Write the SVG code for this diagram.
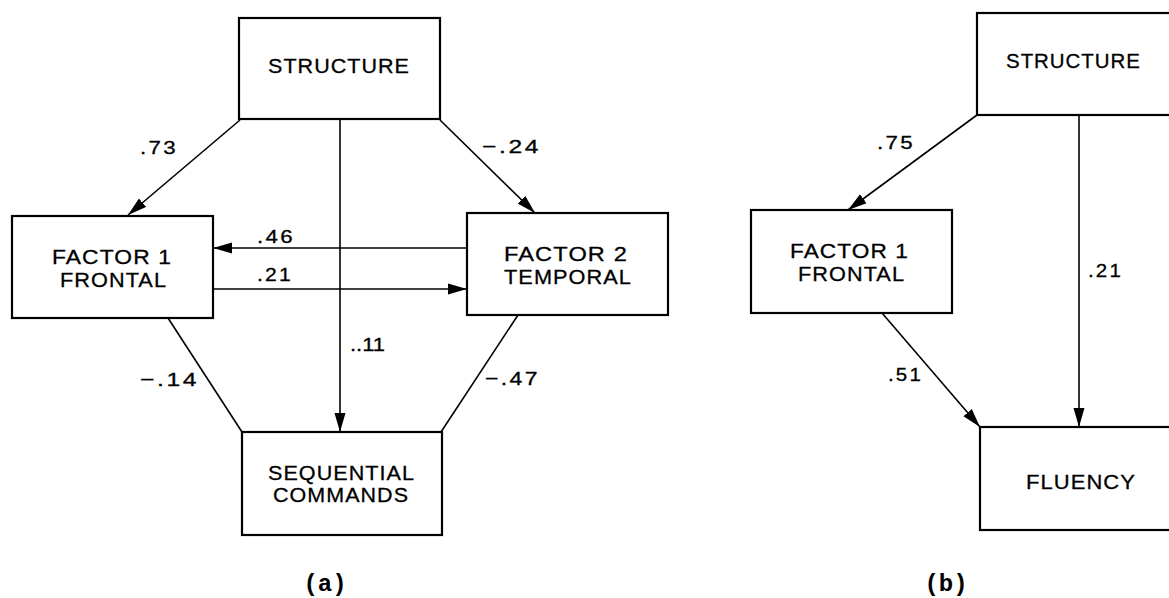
<svg xmlns="http://www.w3.org/2000/svg" width="1169" height="598" viewBox="0 0 1169 598">
<style>
.box{fill:#fff;stroke:#000;stroke-width:2.2}
.nt{font-family:"Liberation Sans",Arial,sans-serif;font-size:20.5px;letter-spacing:1px;fill:#000;stroke:#000;stroke-width:0.3}
.lb{font-family:"Liberation Sans",Arial,sans-serif;font-size:19px;letter-spacing:2px;fill:#000;stroke:#000;stroke-width:0.3}
.cap{font-family:"Liberation Mono","Courier New",monospace;font-size:24px;font-weight:bold;fill:#000;text-anchor:middle}
.ln{stroke:#000;stroke-width:1.6;fill:none}
.ar{marker-end:url(#ah)}
</style>
<defs>
<marker id="ah" markerUnits="userSpaceOnUse" markerWidth="19" markerHeight="12" refX="19" refY="6" orient="auto">
<path d="M0,0.5 L19,6 L0,11.5 z" fill="#000"/>
</marker>
</defs>
<rect width="1169" height="598" fill="#fff"/>
<g id="connectors">
<line class="ln ar" x1="240" y1="120" x2="128" y2="215"/>
<line class="ln ar" x1="440" y1="120" x2="535" y2="213"/>
<line class="ln ar" x1="340" y1="120" x2="340" y2="432"/>
<line class="ln ar" x1="467" y1="248" x2="213" y2="248"/>
<line class="ln ar" x1="213" y1="289" x2="467" y2="289"/>
<line class="ln" x1="168" y1="318" x2="242" y2="432"/>
<line class="ln" x1="518" y1="315" x2="441" y2="432"/>
<line class="ln ar" x1="977" y1="115" x2="848" y2="210"/>
<line class="ln ar" x1="1079" y1="115" x2="1079" y2="427"/>
<line class="ln ar" x1="882" y1="313" x2="980" y2="427"/>
<text class="lb" x="140" y="154" textLength="38" lengthAdjust="spacingAndGlyphs">.73</text>
<text class="lb" x="482" y="153" textLength="59" lengthAdjust="spacingAndGlyphs">−.24</text>
<text class="lb" x="257" y="243" textLength="38" lengthAdjust="spacingAndGlyphs">.46</text>
<text class="lb" x="257" y="281" textLength="36" lengthAdjust="spacingAndGlyphs">.21</text>
<text class="lb" x="350" y="351" textLength="35" lengthAdjust="spacingAndGlyphs" style="letter-spacing:0">..11</text>
<text class="lb" x="140" y="386" textLength="59" lengthAdjust="spacingAndGlyphs">−.14</text>
<text class="lb" x="485" y="385" textLength="55" lengthAdjust="spacingAndGlyphs">−.47</text>
<text class="lb" x="877" y="149" textLength="38" lengthAdjust="spacingAndGlyphs">.75</text>
<text class="lb" x="1088" y="277" textLength="35" lengthAdjust="spacingAndGlyphs">.21</text>
<text class="lb" x="888" y="381" textLength="35" lengthAdjust="spacingAndGlyphs">.51</text>
</g>
<g id="structure-a">
<rect class="box" x="239" y="18" width="201" height="101"/>
<text class="nt" x="268" y="73" textLength="142" lengthAdjust="spacingAndGlyphs">STRUCTURE</text>
</g>
<g id="factor1-a">
<rect class="box" x="12" y="216" width="201" height="102"/>
<text class="nt" x="52" y="264" textLength="120" lengthAdjust="spacingAndGlyphs">FACTOR 1</text>
<text class="nt" x="60" y="287" textLength="107" lengthAdjust="spacingAndGlyphs">FRONTAL</text>
</g>
<g id="factor2-a">
<rect class="box" x="467" y="213" width="201" height="102"/>
<text class="nt" x="504" y="261" textLength="124" lengthAdjust="spacingAndGlyphs">FACTOR 2</text>
<text class="nt" x="504" y="284" textLength="128" lengthAdjust="spacingAndGlyphs">TEMPORAL</text>
</g>
<g id="sequential-a">
<rect class="box" x="242" y="432" width="200" height="103"/>
<text class="nt" x="268" y="480" textLength="147" lengthAdjust="spacingAndGlyphs">SEQUENTIAL</text>
<text class="nt" x="273" y="502" textLength="136" lengthAdjust="spacingAndGlyphs">COMMANDS</text>
</g>
<g id="structure-b">
<rect class="box" x="977" y="13" width="205" height="102"/>
<text class="nt" x="1006" y="68" textLength="135" lengthAdjust="spacingAndGlyphs">STRUCTURE</text>
</g>
<g id="factor1-b">
<rect class="box" x="751" y="210" width="201" height="103"/>
<text class="nt" x="790" y="258" textLength="119" lengthAdjust="spacingAndGlyphs">FACTOR 1</text>
<text class="nt" x="798" y="281" textLength="107" lengthAdjust="spacingAndGlyphs">FRONTAL</text>
</g>
<g id="fluency-b">
<rect class="box" x="980" y="427" width="205" height="103"/>
<text class="nt" x="1026" y="489" textLength="110" lengthAdjust="spacingAndGlyphs">FLUENCY</text>
</g>
<text class="cap" x="325" y="591">(a)</text>
<text class="cap" x="946" y="591">(b)</text>
</svg>
